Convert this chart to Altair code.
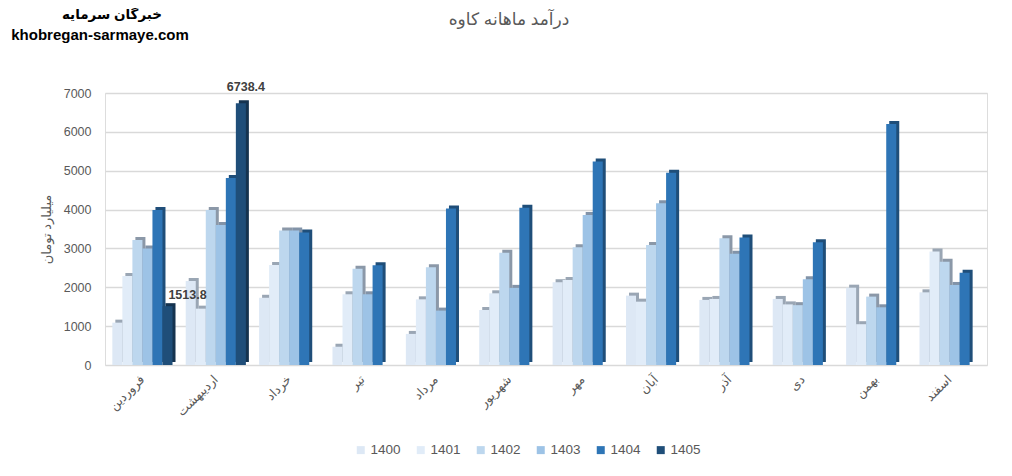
import altair as alt
import pandas as pd

months = ["فروردین", "اردیبهشت", "خرداد", "تیر", "مرداد", "شهریور",
          "مهر", "آبان", "آذر", "دی", "بهمن", "اسفند"]
years = ["1400", "1401", "1402", "1403", "1404", "1405"]

v1400 = [1090, 2160, 1730, 470, 800, 1415, 2130, 1785, 1675, 1700, 1990, 1870]
v1401 = [2290, 1450, 2575, 1820, 1690, 1845, 2190, 1630, 1700, 1560, 1050, 2918]
v1402 = [3220, 3990, 3460, 2480, 2515, 2890, 3030, 3090, 3260, 1540, 1760, 2660]
v1403 = [3000, 3600, 3460, 1820, 1400, 1985, 3860, 4160, 2860, 2205, 1485, 2060]
v1404 = [3990, 4810, 3410, 2570, 4030, 4050, 5240, 4950, 3280, 3160, 6205, 2377]
v1405 = [1513.8, 6738.4, None, None, None, None, None, None, None, None, None, None]

colors = ["#DDE8F5", "#E1ECF8", "#BDD7EE", "#9DC3E6", "#2E75B6", "#1F4E79"]
side_colors = ["#9AA6B4", "#9AA6B4", "#8B98A8", "#8293A8", "#1F4E79", "#15334F"]

title_text = "درآمد ماهانه کاوه"
y_title = "میلیارد تومان"
brand_fa = "خبرگان سرمایه"
brand_en = "khobregan-sarmaye.com"

series = [v1400, v1401, v1402, v1403, v1404, v1405]
rows = []
for y, vals in zip(years, series):
    for m, v in zip(months, vals):
        if v is not None:
            rows.append({"month": m, "year": y, "value": v})
df = pd.DataFrame(rows)

W, H = 882, 272
P_IN, P_OUT = 0.18, 0.1
step = W / (len(months) - P_IN + 2 * P_OUT)
bw = step * (1 - P_IN)
depth = 3

FONT = "Liberation Sans, DejaVu Sans"
GRAY = "#595959"

x_enc = alt.X("month:N", sort=months,
              scale=alt.Scale(paddingInner=P_IN, paddingOuter=P_OUT),
              axis=alt.Axis(title=None, labelAngle=-45, labelAlign="right",
                            labelBaseline="middle", labelFontSize=12.5,
                            labelColor=GRAY, labelFont=FONT, ticks=False,
                            domain=False, labelPadding=12))
y_enc = alt.Y("value:Q",
              scale=alt.Scale(domain=[0, 7000], nice=False),
              axis=alt.Axis(title=y_title, values=list(range(0, 7001, 1000)),
                            format="d",
                            labelFontSize=12.5, labelColor=GRAY, labelFont=FONT,
                            titleFont=FONT, titleFontSize=13, titleColor=GRAY,
                            titleFontWeight="normal", titlePadding=10,
                            ticks=False, domain=False, labelPadding=14,
                            gridColor="#D9D9D9", gridWidth=1.3))

base = alt.Chart(df)


def offset_enc(shift):
    return alt.XOffset("year:N", sort=years,
                       scale=alt.Scale(domain=years, range=[shift, bw + shift],
                                       paddingInner=0, paddingOuter=0))


side = base.mark_bar(yOffset=-depth, y2Offset=-depth + 1).encode(
    x=x_enc,
    y=y_enc,
    xOffset=offset_enc(depth),
    color=alt.Color("year:N", scale=alt.Scale(domain=years, range=side_colors),
                    legend=None),
)

front = base.mark_bar().encode(
    x=x_enc,
    y=y_enc,
    xOffset=offset_enc(0),
    color=alt.Color("year:N",
                    scale=alt.Scale(domain=years, range=colors),
                    legend=alt.Legend(title=None, orient="none", direction="horizontal",
                                      legendX=249, legendY=350, symbolType="square",
                                      symbolSize=64, symbolStrokeWidth=0,
                                      labelFontSize=13.5, labelColor=GRAY,
                                      labelFont=FONT, columnPadding=13,
                                      labelOffset=3)),
)

lab_big = base.transform_filter(
    (alt.datum.year == "1405") & (alt.datum.month == months[1])
).mark_text(baseline="bottom", dy=-9, fontWeight="bold", fontSize=12.5,
            color="#404040", font=FONT).encode(
    x=x_enc, y=y_enc, xOffset=offset_enc(0),
    text=alt.Text("value:Q", format=".1f"),
)

lab_small = base.transform_filter(
    (alt.datum.year == "1405") & (alt.datum.month == months[0])
).mark_text(baseline="middle", dy=-11, dx=15, fontWeight="bold", fontSize=12.5,
            color="#404040", font=FONT).encode(
    x=x_enc, y=y_enc, xOffset=offset_enc(0),
    text=alt.Text("value:Q", format=".1f"),
)

title = alt.Chart(pd.DataFrame({"t": [title_text]})).mark_text(
    fontSize=17, color=GRAY, font=FONT
).encode(x=alt.value(404), y=alt.value(-73), text="t:N")

brand1 = alt.Chart(pd.DataFrame({"t": [brand_fa]})).mark_text(
    fontWeight="bold", fontSize=13.5, color="#000000", font=FONT
).encode(x=alt.value(7), y=alt.value(-78), text="t:N")

brand2 = alt.Chart(pd.DataFrame({"t": [brand_en]})).mark_text(
    fontWeight="bold", fontSize=15, color="#000000", font=FONT
).encode(x=alt.value(-5), y=alt.value(-58), text="t:N")

chart = alt.layer(side, front, lab_big, lab_small, title, brand1, brand2).resolve_scale(
    xOffset="independent", color="independent"
).properties(
    width=W, height=H,
    padding={"left": 97, "top": 85, "right": 17, "bottom": 103},
    autosize=alt.AutoSizeParams(type="none"),
).configure_view(stroke=None).configure(background="#FFFFFF")

chart.save("out.html", embed_options={"renderer": "svg", "actions": False})
